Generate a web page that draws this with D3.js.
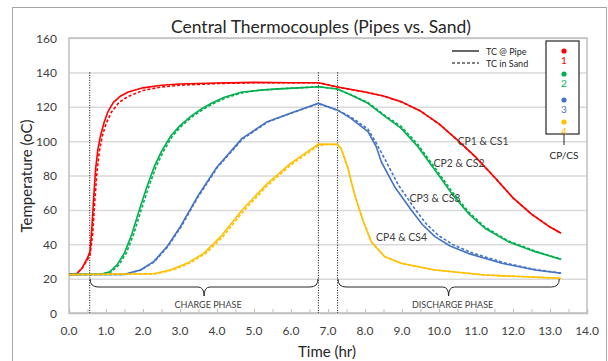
<!DOCTYPE html>
<html>
<head>
<meta charset="utf-8">
<script src="https://cdn.jsdelivr.net/npm/d3@7"></script>
<style>
  body { margin: 0; background: #fff; }
  text { font-family: Lato, "Open Sans", sans-serif; }
</style>
</head>
<body>
<svg id="chart" width="608" height="361"></svg>
<script>
// time (hr), temperature (oC) pairs
const cp1 = [[0,22.5],[0.2,22.7],[0.35,26],[0.5,32],[0.57,36],[0.62,50],[0.67,68],[0.72,84],[0.78,95],[0.85,103],[0.95,111],[1.05,117],[1.2,122.5],[1.4,126.3],[1.6,128.6],[2.0,131],[2.5,132.5],[3.0,133.2],[4.0,133.8],[5.0,134.2],[6.0,134],[6.75,134],[7.25,131.5],[8.0,128.6],[8.5,126.3],[9.0,122.7],[9.5,117.5],[10.0,110],[10.5,100.6],[11.0,90.5],[11.5,79],[12.0,67],[12.5,57.5],[13.0,50],[13.3,46.4]];
const cs1 = [[0,22.5],[0.2,22.7],[0.35,26],[0.5,31],[0.57,34],[0.64,46],[0.7,66],[0.76,83],[0.82,94],[0.9,103],[1.0,110],[1.15,117],[1.35,122.5],[1.6,126],[2.0,129.5],[2.5,131.5],[3.0,132.5],[4.0,133.5],[5.0,134],[6.0,134],[6.75,134],[7.25,131.5],[8.0,128.6],[8.5,126.3],[9.0,122.7],[9.5,117.5],[10.0,110],[10.5,100.6],[11.0,90.5],[11.5,79],[12.0,67],[12.5,57.5],[13.0,50],[13.3,46.4]];
const cp2 = [[0,22.5],[0.9,22.7],[1.1,24],[1.3,28],[1.5,35],[1.7,46],[1.93,62],[2.1,73],[2.3,85],[2.5,94],[2.75,103],[3.0,109],[3.3,114.5],[3.6,119],[3.85,122],[4.2,125.5],[4.65,128.4],[5.1,129.5],[5.65,130.4],[6.2,131],[6.75,131.6],[7.25,130.3],[7.62,126.8],[8.08,122],[8.53,114.5],[8.98,107.4],[9.43,96.7],[9.89,83.2],[10.34,69.6],[10.79,58],[11.24,49.3],[11.87,41.5],[12.6,35.7],[13.3,31.2]];
const cs2 = [[0,22.5],[0.9,22.7],[1.15,24],[1.35,28],[1.55,35],[1.75,46],[1.98,62],[2.15,73],[2.35,85],[2.55,94],[2.8,103],[3.05,109],[3.35,114.5],[3.65,118.8],[3.9,121.8],[4.25,125.3],[4.7,128.2],[5.1,129.5],[5.65,130.4],[6.2,131],[6.75,131.6],[7.25,130.3],[7.62,127],[8.08,122.5],[8.53,115],[8.98,108.5],[9.43,98],[9.89,84.5],[10.34,71],[10.79,59],[11.24,50],[11.87,42],[12.6,36],[13.3,31.3]];
const cp3 = [[0,22.3],[1.5,22.5],[1.93,25],[2.29,29.9],[2.65,38.6],[3.01,50.2],[3.47,67.6],[4.0,85],[4.68,101.6],[5.36,111.3],[6.08,117],[6.74,122],[7.26,118],[7.62,113.2],[8.08,105.5],[8.3,97],[8.44,88],[8.8,73.5],[9.25,59.9],[9.55,51.5],[9.89,44.4],[10.3,39],[10.79,34.7],[11.7,28.9],[12.6,25],[13.3,23.1]];
const cs3 = [[0,22.3],[1.5,22.5],[1.95,25],[2.31,29.9],[2.67,38.6],[3.03,50.2],[3.49,67.6],[4.02,85],[4.7,101.4],[5.38,111.2],[6.1,117],[6.74,121.8],[7.26,118],[7.62,114],[8.08,107],[8.3,99],[8.55,89],[8.9,74.5],[9.35,60.5],[9.65,52],[9.99,45],[10.4,39.5],[10.89,35],[11.8,29],[12.6,25.3],[13.3,23.2]];
const cp4 = [[0,22.3],[2.29,22.8],[2.74,25],[3.19,28.9],[3.64,34.7],[4.1,44.4],[4.68,59.9],[5.32,74.5],[5.99,87],[6.74,98.3],[7.25,98.1],[7.35,95.8],[7.53,85],[7.71,69.6],[7.94,54.1],[8.17,41.5],[8.53,32.8],[8.98,28.9],[9.89,25],[11.24,22.1],[13.3,20.2]];
const cs4 = [[0,22.3],[2.35,22.8],[2.8,25],[3.25,28.9],[3.7,34.7],[4.16,44.4],[4.74,59.9],[5.38,74.5],[6.05,87],[6.74,97.3],[7.0,98],[7.25,98.1],[7.35,95.8],[7.53,85],[7.71,69.6],[7.94,54.1],[8.17,41.5],[8.53,32.8],[8.98,28.9],[9.89,25],[11.24,22.1],[13.3,20.2]];

const pairNames = ["CP1 & CS1", "CP2 & CS2", "CP3 & CS3", "CP4 & CS4"];
const pairColors = ["#ff0000", "#00b050", "#4472c4", "#ffc000"];
const legendNums = ["1", "2", "3", "4"];
const xTicks = d3.range(0, 14.01, 1);
const yTicks = d3.range(0, 161, 20);
const phaseLines = [0.56, 6.74, 7.26];   // dotted markers (hr)
const phases = [["CHARGE PHASE", 0.57, 6.73], ["DISCHARGE PHASE", 7.27, 13.25]];
// where the pair labels sit (time, temp)
const pairLabelPos = [[10.5, 100], [9.85, 87], [9.2, 67], [8.3, 44]];

const svg = d3.select("#chart");
const x = d3.scaleLinear().domain([0, 14]).range([69, 587]);
const y = d3.scaleLinear().domain([0, 160]).range([313, 38]);

// outer chart frame
svg.append("rect").attr("x", 12.5).attr("y", 7.5).attr("width", 594).attr("height", 370)
  .attr("fill", "none").attr("stroke", "#a6a6a6");

svg.append("text").attr("x", 321).attr("y", 33).attr("text-anchor", "middle")
  .attr("font-size", 17.5).attr("fill", "#262626")
  .text("Central Thermocouples (Pipes vs. Sand)");

// gridlines
svg.append("g").selectAll("line").data(yTicks.slice(1)).join("line")
  .attr("x1", x(0)).attr("x2", x(14))
  .attr("y1", d => y(d) + 0.5).attr("y2", d => y(d) + 0.5)
  .attr("stroke", "#d9d9d9").attr("stroke-width", 1.5);

// plot area border
svg.append("rect").attr("x", x(0)).attr("y", y(160)).attr("width", x(14) - x(0)).attr("height", y(0) - y(160))
  .attr("fill", "none").attr("stroke", "#bfbfbf").attr("stroke-width", 1.5);

// x axis: ticks inside every half hour, labels every hour
const xAxis = svg.append("g").attr("transform", `translate(0,${y(0)})`)
  .call(d3.axisBottom(x).tickValues(d3.range(0, 14.01, 0.5)).tickSize(-4).tickFormat(""));
xAxis.select(".domain").attr("stroke", "#bfbfbf").attr("stroke-width", 1.5);
xAxis.selectAll(".tick line").attr("stroke", "#bfbfbf");
svg.append("g").selectAll("text").data(xTicks).join("text")
  .attr("x", d => x(d)).attr("y", 335).attr("text-anchor", "middle")
  .attr("font-size", 12).attr("fill", "#404040").text(d => d.toFixed(1));

// y axis labels
svg.append("g").selectAll("text").data(yTicks).join("text")
  .attr("x", 57).attr("y", d => y(d) + 4.5).attr("text-anchor", "end")
  .attr("font-size", 12).attr("fill", "#404040").text(d => d);

svg.append("text").attr("transform", "translate(32,176) rotate(-90)").attr("text-anchor", "middle")
  .attr("font-size", 15).attr("fill", "#262626").text("Temperature (oC)");
svg.append("text").attr("x", 327).attr("y", 357).attr("text-anchor", "middle")
  .attr("font-size", 15).attr("fill", "#262626").text("Time (hr)");

// phase markers
svg.append("g").selectAll("line").data(phaseLines).join("line")
  .attr("x1", d => x(d)).attr("x2", d => x(d)).attr("y1", y(140)).attr("y2", y(0))
  .attr("stroke", "#000").attr("stroke-width", 1).attr("stroke-dasharray", "1,1.5");

// curly braces under the flat start of the curves
function brace(x0, x1, yTop) {
  const xc = (x0 + x1) / 2, yl = yTop + 8, yt = yTop + 17;
  return `M${x0},${yTop} Q${x0},${yl} ${x0 + 8},${yl} L${xc - 6},${yl} Q${xc},${yl} ${xc},${yt}` +
    ` Q${xc},${yl} ${xc + 6},${yl} L${x1 - 8},${yl} Q${x1},${yl} ${x1},${yTop}`;
}
const ph = svg.append("g").selectAll("g").data(phases).join("g");
ph.append("path").attr("d", d => brace(x(d[1]), x(d[2]), 279))
  .attr("fill", "none").attr("stroke", "#262626").attr("stroke-width", 1);
ph.append("text").attr("x", d => (x(d[1]) + x(d[2])) / 2 + 4).attr("y", 308)
  .attr("text-anchor", "middle").attr("font-size", 9).attr("fill", "#404040").text(d => d[0]);

// the curves (straight segments, like the spreadsheet scatter)
const line = d3.line().x(d => x(d[0])).y(d => y(d[1]));
const series = [[cs1, 0], [cs2, 1], [cs3, 2], [cs4, 3]].map(s => ({ data: s[0], c: s[1], dashed: true }))
  .concat([[cp1, 0], [cp2, 1], [cp3, 2], [cp4, 3]].map(s => ({ data: s[0], c: s[1], dashed: false })));
svg.append("g").selectAll("path").data(series).join("path")
  .attr("d", d => line(d.data)).attr("fill", "none")
  .attr("stroke", d => pairColors[d.c]).attr("stroke-width", 1.6)
  .attr("stroke-linejoin", "round")
  .attr("stroke-dasharray", d => d.dashed ? "3,2" : null);

svg.append("g").selectAll("text").data(pairNames).join("text")
  .attr("x", (d, i) => x(pairLabelPos[i][0])).attr("y", (d, i) => y(pairLabelPos[i][1]) + 4)
  .attr("font-size", 10.5).attr("fill", "#404040").text(d => d);

// line style legend
const styleLeg = svg.append("g");
[["TC @ Pipe", null, 51], ["TC in Sand", "3,2", 63]].forEach(s => {
  styleLeg.append("line").attr("x1", 452).attr("x2", 479).attr("y1", s[2]).attr("y2", s[2])
    .attr("stroke", "#000").attr("stroke-width", 1.2).attr("stroke-dasharray", s[1]);
  styleLeg.append("text").attr("x", 486).attr("y", s[2] + 3.5).attr("font-size", 9)
    .attr("fill", "#262626").text(s[0]);
});

// colour legend box
svg.append("rect").attr("x", 546).attr("y", 41).attr("width", 33).attr("height", 93)
  .attr("fill", "#fff").attr("stroke", "#262626").attr("stroke-width", 1.2);
const dotY = [51, 74, 100, 122];
const leg = svg.append("g").selectAll("g").data(legendNums).join("g");
leg.append("circle").attr("cx", 564).attr("cy", (d, i) => dotY[i]).attr("r", 2.6)
  .attr("fill", (d, i) => pairColors[i]);
leg.append("text").attr("x", 564).attr("y", (d, i) => dotY[i] + 13).attr("text-anchor", "middle")
  .attr("font-size", 10).attr("fill", (d, i) => pairColors[i]).text(d => d);
svg.append("line").attr("x1", 564).attr("x2", 564).attr("y1", 134).attr("y2", 145)
  .attr("stroke", "#262626");
svg.append("text").attr("x", 564).attr("y", 159).attr("text-anchor", "middle")
  .attr("font-size", 10).attr("fill", "#262626").text("CP/CS");
</script>
</body>
</html>
